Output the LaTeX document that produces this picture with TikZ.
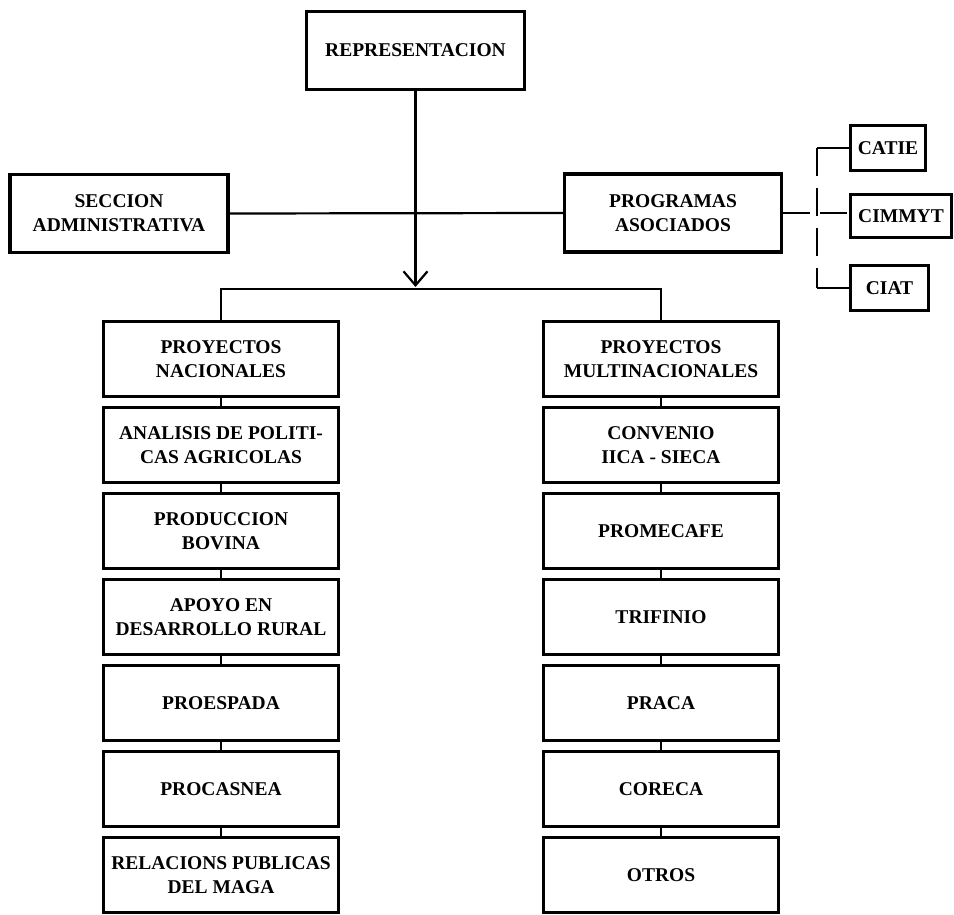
\documentclass[tikz,border=0pt]{standalone}
\usepackage{fontspec}
\setmainfont{Liberation Serif}
\usetikzlibrary{arrows.meta}
\begin{document}
\begin{tikzpicture}[x=1pt,y=-1pt,
  box/.style={draw, line width=3.2pt, inner sep=0pt, align=center,
    font=\fontsize{19.5}{24}\selectfont\bfseries},
  bigbox/.style={box, minimum width=218pt, minimum height=78pt},
  colbox/.style={box, minimum width=235pt, minimum height=75pt},
  conn/.style={line width=2.2pt},
  dashconn/.style={line width=2.2pt, dash pattern=on 28pt off 12pt}]
\useasboundingbox (0,0) rectangle (954,915);
\fill[white] (0,0) rectangle (954,915);
% top level
\node[bigbox] (rep) at (415.5,50.5) {REPRESENTACION};
\node[bigbox] (sec) at (119,213.5) {SECCION\\ADMINISTRATIVA};
\node[bigbox, minimum width=217pt] (prog) at (673,213) {PROGRAMAS\\ASOCIADOS};
% associated programs
\node[box, minimum width=75pt, minimum height=45pt] (catie) at (888,148) {CATIE};
\node[box, minimum width=101pt, minimum height=43pt] (cimmyt) at (901,216) {CIMMYT};
\node[box, minimum width=78pt, minimum height=45pt] (ciat) at (889.5,288) {CIAT};
% left column
\node[colbox] (pn) at (221,359) {PROYECTOS\\NACIONALES};
\node[colbox] (an) at (221,445) {ANALISIS DE POLITI-\\CAS AGRICOLAS};
\node[colbox] (pb) at (221,531) {PRODUCCION\\BOVINA};
\node[colbox] (ap) at (221,617) {APOYO EN\\DESARROLLO RURAL};
\node[colbox] (pe) at (221,703) {PROESPADA};
\node[colbox] (pc) at (221,789) {PROCASNEA};
\node[colbox] (rp) at (221,875) {RELACIONS PUBLICAS\\DEL MAGA};
% right column
\node[colbox] (pm) at (661,359) {PROYECTOS\\MULTINACIONALES};
\node[colbox] (cv) at (661,445) {CONVENIO\\IICA - SIECA};
\node[colbox] (pf) at (661,531) {PROMECAFE};
\node[colbox] (tr) at (661,617) {TRIFINIO};
\node[colbox] (pr) at (661,703) {PRACA};
\node[colbox] (co) at (661,789) {CORECA};
\node[colbox] (ot) at (661,875) {OTROS};
% coordinates
\coordinate (tip) at (415.5,287);
\coordinate (busL) at (221,289);
\coordinate (busR) at (661,289);
\coordinate (vt) at (817,148);
\coordinate (vb) at (817,288);
% connectors
\draw[conn] (sec.east) -- (prog.west);
\draw[conn, -{Straight Barb[length=14pt,width=24pt]}] (rep.south) -- (tip);
\draw[conn] (pn.north) -- (busL) -- (busR) -- (pm.north);
\draw[conn] (pn) -- (an);
\draw[conn] (an) -- (pb);
\draw[conn] (pb) -- (ap);
\draw[conn] (ap) -- (pe);
\draw[conn] (pe) -- (pc);
\draw[conn] (pc) -- (rp);
\draw[conn] (pm) -- (cv);
\draw[conn] (cv) -- (pf);
\draw[conn] (pf) -- (tr);
\draw[conn] (tr) -- (pr);
\draw[conn] (pr) -- (co);
\draw[conn] (co) -- (ot);
% dashed links to associated programs
\draw[dashconn] (vt) -- (vb);
\draw[conn] (catie.west) -- (vt);
\draw[conn] (ciat.west) -- (vb);
\draw[line width=2.2pt, dash pattern=on 27pt off 10pt] (prog.east) -- (prog.east -| cimmyt.west);
\end{tikzpicture}
\end{document}
